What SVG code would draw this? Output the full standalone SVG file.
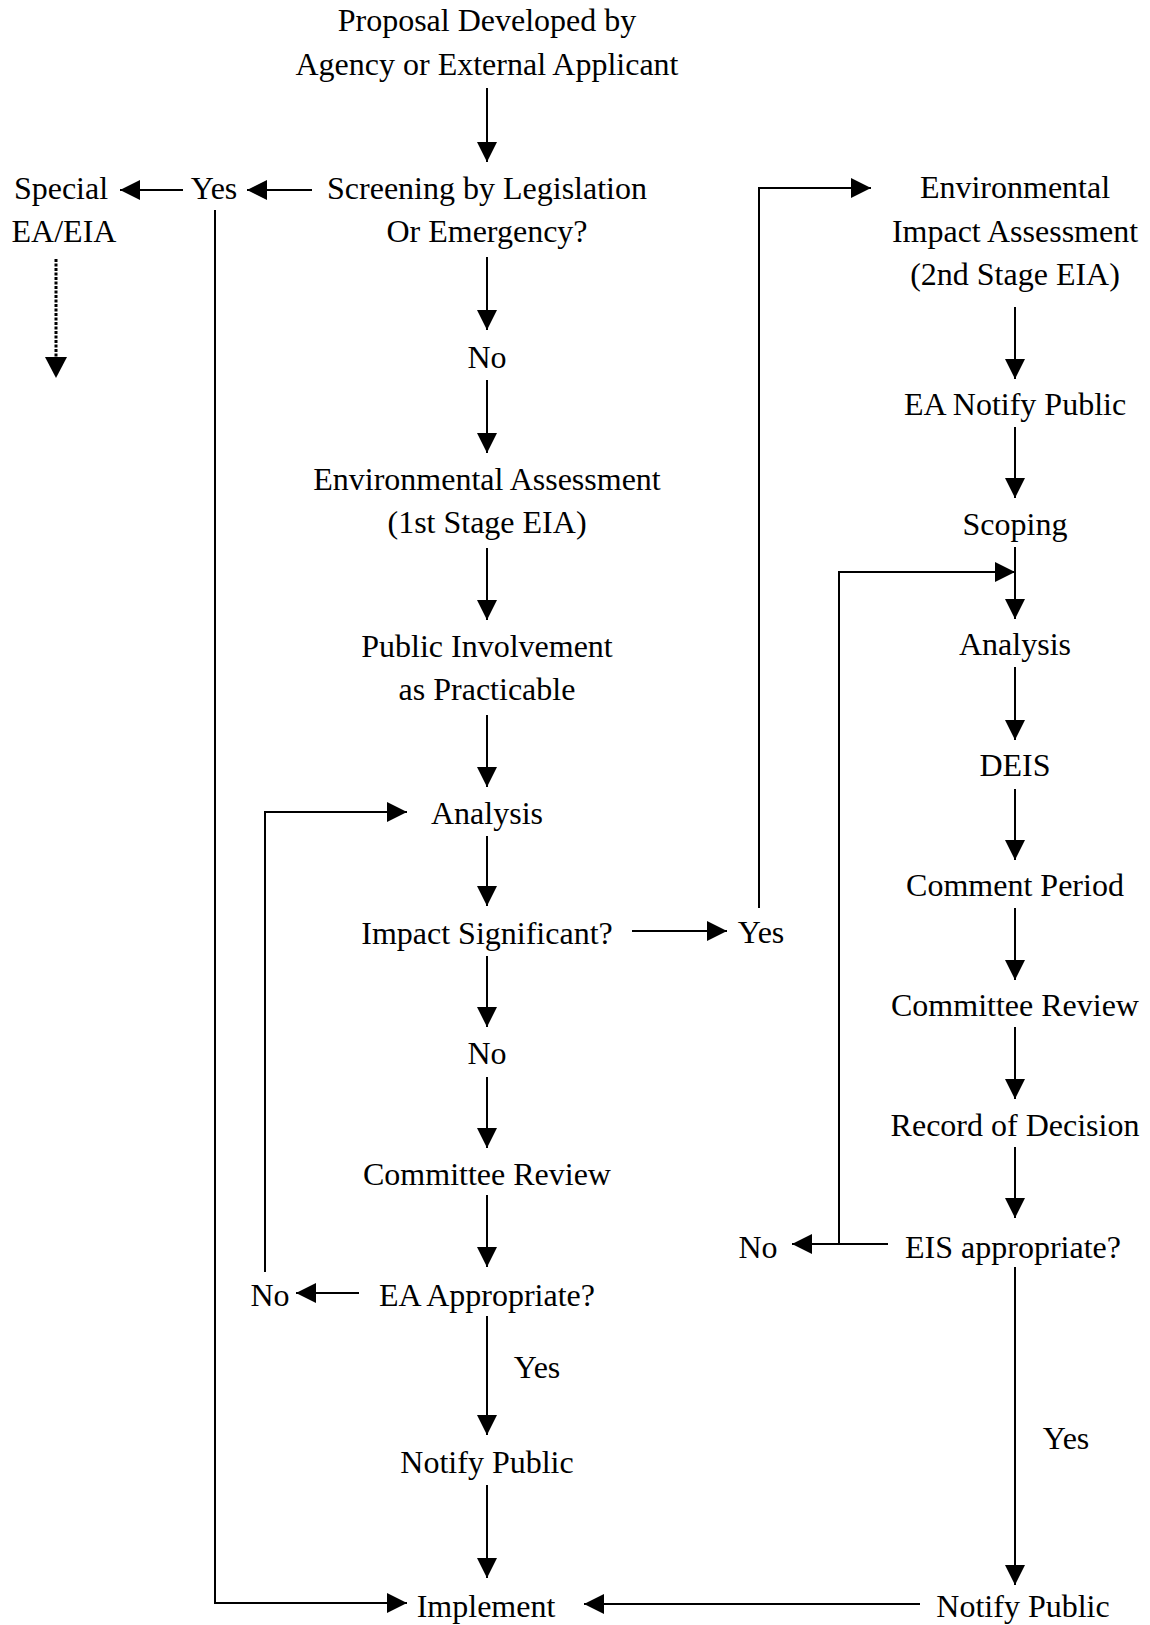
<svg xmlns="http://www.w3.org/2000/svg" width="1150" height="1625" viewBox="0 0 1150 1625">
<defs>
<style>
text{font-family:"Liberation Serif","Times New Roman",serif;font-size:32px;fill:#000;text-anchor:middle}
.c{fill:none;stroke:#000;stroke-width:2}
.d{fill:none;stroke:#000;stroke-width:3;stroke-dasharray:3 1.5}
</style>
<marker id="ah" markerUnits="userSpaceOnUse" markerWidth="20" markerHeight="20" refX="20" refY="10" orient="auto" overflow="visible">
<path d="M0,0 L20,10 L0,20 z" fill="#000"/>
</marker>
</defs>
<rect width="1150" height="1625" fill="#fff"/>

<g id="connectors">
<path class="c" marker-end="url(#ah)" d="M487,88 V162"/>
<path class="c" marker-end="url(#ah)" d="M312,190 H247"/>
<path class="c" marker-end="url(#ah)" d="M183,190 H120"/>
<path class="d" d="M56,259 V360"/>
<path d="M45,357 L67,357 L56,378 z" fill="#000"/>
<path class="c" marker-end="url(#ah)" d="M487,257 V330"/>
<path class="c" marker-end="url(#ah)" d="M487,380 V453"/>
<path class="c" marker-end="url(#ah)" d="M487,548 V620"/>
<path class="c" marker-end="url(#ah)" d="M487,715 V787"/>
<path class="c" marker-end="url(#ah)" d="M487,836 V906"/>
<path class="c" marker-end="url(#ah)" d="M487,956 V1027"/>
<path class="c" marker-end="url(#ah)" d="M487,1077 V1148"/>
<path class="c" marker-end="url(#ah)" d="M487,1195 V1267"/>
<path class="c" marker-end="url(#ah)" d="M487,1316 V1435"/>
<path class="c" marker-end="url(#ah)" d="M487,1485 V1578"/>
<path class="c" marker-end="url(#ah)" d="M359,1293 H296"/>
<path class="c" marker-end="url(#ah)" d="M265,1272 V812 H407"/>
<path class="c" marker-end="url(#ah)" d="M632,931 H727"/>
<path class="c" marker-end="url(#ah)" d="M759,908 V188 H871"/>
<path class="c" marker-end="url(#ah)" d="M215,210 V1603 H407"/>
<path class="c" marker-end="url(#ah)" d="M920,1604 H584"/>
<path class="c" marker-end="url(#ah)" d="M1015,307 V379"/>
<path class="c" marker-end="url(#ah)" d="M1015,427 V498"/>
<path class="c" marker-end="url(#ah)" d="M1015,547 V619"/>
<path class="c" marker-end="url(#ah)" d="M1015,667 V740"/>
<path class="c" marker-end="url(#ah)" d="M1015,789 V860"/>
<path class="c" marker-end="url(#ah)" d="M1015,908 V980"/>
<path class="c" marker-end="url(#ah)" d="M1015,1027 V1099"/>
<path class="c" marker-end="url(#ah)" d="M1015,1147 V1218"/>
<path class="c" marker-end="url(#ah)" d="M1015,1267 V1585"/>
<path class="c" marker-end="url(#ah)" d="M888,1244 H792"/>
<path class="c" marker-end="url(#ah)" d="M839,1244 V572 H1015"/>
</g>

<g id="n-proposal"><text x="487" y="31">Proposal Developed by</text><text x="487" y="75">Agency or External Applicant</text></g>
<g id="n-screening"><text x="487" y="199">Screening by Legislation</text><text x="487" y="242">Or Emergency?</text></g>
<g id="n-yes1"><text x="214" y="199">Yes</text></g>
<g id="n-special"><text x="61" y="199">Special</text><text x="64" y="242">EA/EIA</text></g>
<g id="n-no1"><text x="487" y="368">No</text></g>
<g id="n-ea"><text x="487" y="490">Environmental Assessment</text><text x="487" y="533">(1st Stage EIA)</text></g>
<g id="n-public"><text x="487" y="657">Public Involvement</text><text x="487" y="700">as Practicable</text></g>
<g id="n-analysis1"><text x="487" y="824">Analysis</text></g>
<g id="n-impact"><text x="487" y="944">Impact Significant?</text></g>
<g id="n-yes2"><text x="761" y="943">Yes</text></g>
<g id="n-no2"><text x="487" y="1064">No</text></g>
<g id="n-committee1"><text x="487" y="1185">Committee Review</text></g>
<g id="n-eaapp"><text x="487" y="1306">EA Appropriate?</text></g>
<g id="n-no3"><text x="270" y="1306">No</text></g>
<g id="n-yes3"><text x="537" y="1378">Yes</text></g>
<g id="n-notify1"><text x="487" y="1473">Notify Public</text></g>
<g id="n-implement"><text x="486" y="1617">Implement</text></g>
<g id="n-eia"><text x="1015" y="198">Environmental</text><text x="1015" y="242">Impact Assessment</text><text x="1015" y="285">(2nd Stage EIA)</text></g>
<g id="n-eanotify"><text x="1015" y="415">EA Notify Public</text></g>
<g id="n-scoping"><text x="1015" y="535">Scoping</text></g>
<g id="n-analysis2"><text x="1015" y="655">Analysis</text></g>
<g id="n-deis"><text x="1015" y="776">DEIS</text></g>
<g id="n-comment"><text x="1015" y="896">Comment Period</text></g>
<g id="n-committee2"><text x="1015" y="1016">Committee Review</text></g>
<g id="n-record"><text x="1015" y="1136">Record of Decision</text></g>
<g id="n-eisapp"><text x="1013" y="1258">EIS appropriate?</text></g>
<g id="n-no4"><text x="758" y="1258">No</text></g>
<g id="n-yes4"><text x="1066" y="1449">Yes</text></g>
<g id="n-notify2"><text x="1023" y="1617">Notify Public</text></g>
</svg>
